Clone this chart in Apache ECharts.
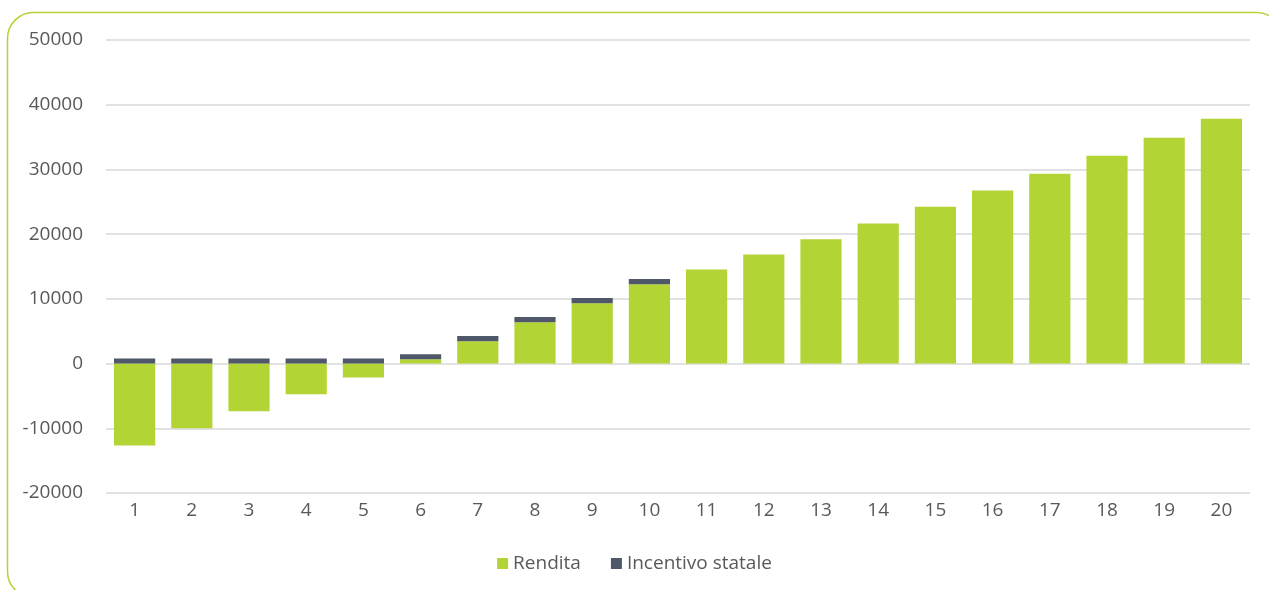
<!DOCTYPE html>
<html>
<head>
<meta charset="utf-8">
<script src="https://cdn.jsdelivr.net/npm/echarts@6/dist/echarts.min.js"></script>
<style>
  html, body { margin: 0; padding: 0; background: #fff; }
  #chart { width: 1269px; height: 590px; }
</style>
</head>
<body>
<div id="chart"></div>
<script>
// anni
const anni = ["1", "2", "3", "4", "5", "6", "7", "8", "9", "10",
  "11", "12", "13", "14", "15", "16", "17", "18", "19", "20"];
// rendita netta per anno
const rendita = [-12650, -10000, -7350, -4730, -2150, 650, 3450, 6400, 9330, 12270,
  14550, 16850, 19200, 21650, 24250, 26750, 29350, 32100, 34900, 37850];
// incentivo statale (solo primi 10 anni)
const incentivo = [800, 800, 800, 800, 800, 800, 800, 800, 800, 800,
  "-", "-", "-", "-", "-", "-", "-", "-", "-", "-"];
// tacche asse y
const yTicks = { min: -20000, max: 50000, interval: 10000 };

const chart = echarts.init(document.getElementById("chart"));
const font = "'Open Sans', 'DejaVu Sans', sans-serif";
const option = {
  animation: false,
  color: ["#b3d435", "#4f5869"],
  // cornice arrotondata verde
  graphic: [{
    type: "rect",
    shape: { x: 7.5, y: 12.5, width: 1275, height: 585, r: 26 },
    style: { fill: "none", stroke: "#b5d334", lineWidth: 1.5 },
    silent: true
  }],
  grid: { left: 106, right: 19, top: 40, bottom: 97 },
  legend: {
    bottom: 12,
    left: "center",
    icon: "rect",
    itemWidth: 11,
    itemHeight: 11,
    itemGap: 30,
    textStyle: { fontFamily: font, fontSize: 19, color: "#595959" },
    data: ["Rendita", "Incentivo statale"]
  },
  xAxis: {
    type: "category",
    data: anni,
    axisLine: { show: false, onZero: false },
    axisTick: { show: false },
    axisLabel: { fontFamily: font, fontSize: 19, color: "#595959", margin: 8 }
  },
  yAxis: {
    type: "value",
    min: yTicks.min,
    max: yTicks.max,
    interval: yTicks.interval,
    axisLine: { show: false },
    axisTick: { show: false },
    axisLabel: {
      fontFamily: font, fontSize: 19, color: "#595959", margin: 23,
      formatter: (v) => String(v)
    },
    splitLine: { lineStyle: { color: "#d9d9d9", width: 1.5 } }
  },
  series: [
    {
      name: "Rendita",
      type: "bar",
      stack: "tot",
      barCategoryGap: "28%",
      data: rendita
    },
    {
      name: "Incentivo statale",
      type: "bar",
      stack: "tot",
      barCategoryGap: "28%",
      data: incentivo
    }
  ]
};
chart.setOption(option);
</script>
</body>
</html>
